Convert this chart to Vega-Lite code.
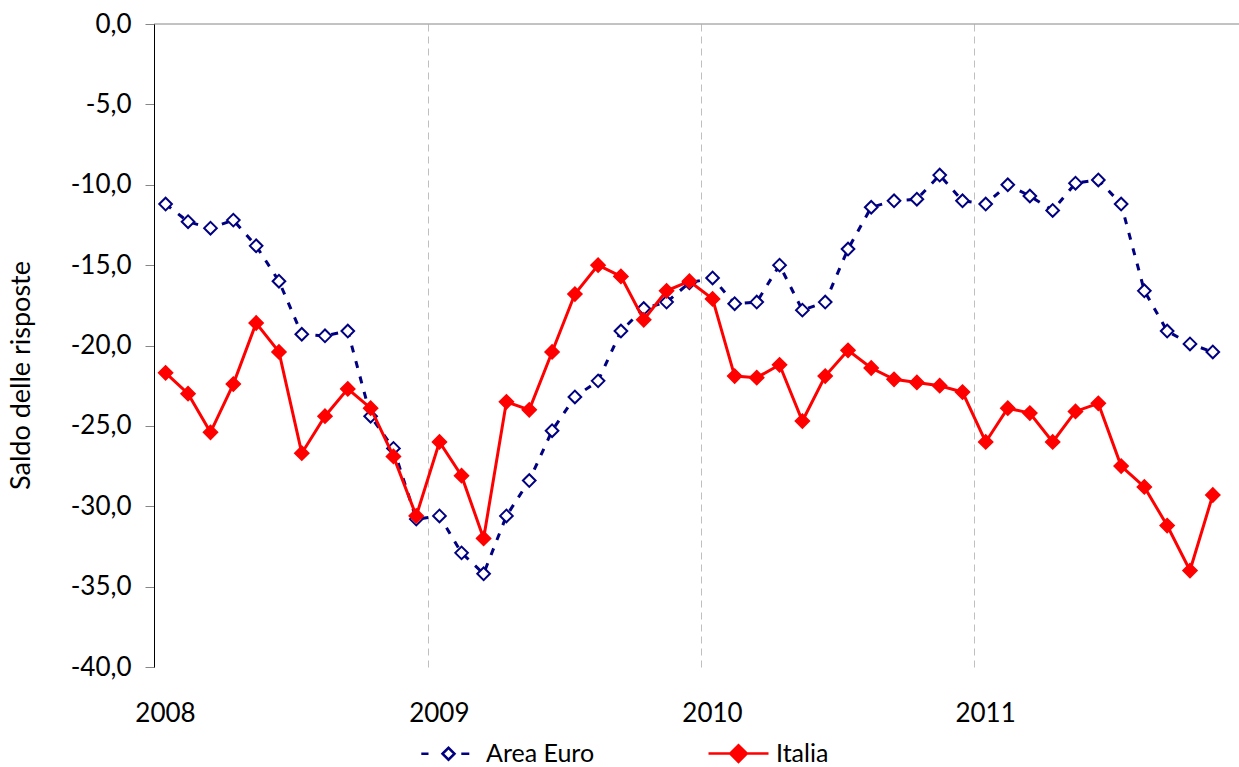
{
  "$schema": "https://vega.github.io/schema/vega-lite/v6.json",
  "width": 1085,
  "height": 643,
  "autosize": {"type": "none"},
  "padding": {"left": 154, "top": 24, "right": 0, "bottom": 100},
  "background": "white",
  "config": {
    "font": "Lato",
    "view": {"stroke": null},
    "axis": {"labelFont": "Lato", "titleFont": "Lato"},
    "legend": {"labelFont": "Lato"},
    "locale": {"number": {"decimal": ",", "thousands": ".", "grouping": [3], "currency": ["€", ""], "minus": "-"}}
  },
  "data": {
    "values": [
      {"mese": "2008-01", "serie": "Area Euro", "valore": -11.2},
      {"mese": "2008-02", "serie": "Area Euro", "valore": -12.3},
      {"mese": "2008-03", "serie": "Area Euro", "valore": -12.7},
      {"mese": "2008-04", "serie": "Area Euro", "valore": -12.2},
      {"mese": "2008-05", "serie": "Area Euro", "valore": -13.8},
      {"mese": "2008-06", "serie": "Area Euro", "valore": -16.0},
      {"mese": "2008-07", "serie": "Area Euro", "valore": -19.3},
      {"mese": "2008-08", "serie": "Area Euro", "valore": -19.4},
      {"mese": "2008-09", "serie": "Area Euro", "valore": -19.1},
      {"mese": "2008-10", "serie": "Area Euro", "valore": -24.4},
      {"mese": "2008-11", "serie": "Area Euro", "valore": -26.4},
      {"mese": "2008-12", "serie": "Area Euro", "valore": -30.8},
      {"mese": "2009-01", "serie": "Area Euro", "valore": -30.6},
      {"mese": "2009-02", "serie": "Area Euro", "valore": -32.9},
      {"mese": "2009-03", "serie": "Area Euro", "valore": -34.2},
      {"mese": "2009-04", "serie": "Area Euro", "valore": -30.6},
      {"mese": "2009-05", "serie": "Area Euro", "valore": -28.4},
      {"mese": "2009-06", "serie": "Area Euro", "valore": -25.3},
      {"mese": "2009-07", "serie": "Area Euro", "valore": -23.2},
      {"mese": "2009-08", "serie": "Area Euro", "valore": -22.2},
      {"mese": "2009-09", "serie": "Area Euro", "valore": -19.1},
      {"mese": "2009-10", "serie": "Area Euro", "valore": -17.7},
      {"mese": "2009-11", "serie": "Area Euro", "valore": -17.3},
      {"mese": "2009-12", "serie": "Area Euro", "valore": -16.1},
      {"mese": "2010-01", "serie": "Area Euro", "valore": -15.8},
      {"mese": "2010-02", "serie": "Area Euro", "valore": -17.4},
      {"mese": "2010-03", "serie": "Area Euro", "valore": -17.3},
      {"mese": "2010-04", "serie": "Area Euro", "valore": -15.0},
      {"mese": "2010-05", "serie": "Area Euro", "valore": -17.8},
      {"mese": "2010-06", "serie": "Area Euro", "valore": -17.3},
      {"mese": "2010-07", "serie": "Area Euro", "valore": -14.0},
      {"mese": "2010-08", "serie": "Area Euro", "valore": -11.4},
      {"mese": "2010-09", "serie": "Area Euro", "valore": -11.0},
      {"mese": "2010-10", "serie": "Area Euro", "valore": -10.9},
      {"mese": "2010-11", "serie": "Area Euro", "valore": -9.4},
      {"mese": "2010-12", "serie": "Area Euro", "valore": -11.0},
      {"mese": "2011-01", "serie": "Area Euro", "valore": -11.2},
      {"mese": "2011-02", "serie": "Area Euro", "valore": -10.0},
      {"mese": "2011-03", "serie": "Area Euro", "valore": -10.7},
      {"mese": "2011-04", "serie": "Area Euro", "valore": -11.6},
      {"mese": "2011-05", "serie": "Area Euro", "valore": -9.9},
      {"mese": "2011-06", "serie": "Area Euro", "valore": -9.7},
      {"mese": "2011-07", "serie": "Area Euro", "valore": -11.2},
      {"mese": "2011-08", "serie": "Area Euro", "valore": -16.6},
      {"mese": "2011-09", "serie": "Area Euro", "valore": -19.1},
      {"mese": "2011-10", "serie": "Area Euro", "valore": -19.9},
      {"mese": "2011-11", "serie": "Area Euro", "valore": -20.4},
      {"mese": "2008-01", "serie": "Italia", "valore": -21.7},
      {"mese": "2008-02", "serie": "Italia", "valore": -23.0},
      {"mese": "2008-03", "serie": "Italia", "valore": -25.4},
      {"mese": "2008-04", "serie": "Italia", "valore": -22.4},
      {"mese": "2008-05", "serie": "Italia", "valore": -18.6},
      {"mese": "2008-06", "serie": "Italia", "valore": -20.4},
      {"mese": "2008-07", "serie": "Italia", "valore": -26.7},
      {"mese": "2008-08", "serie": "Italia", "valore": -24.4},
      {"mese": "2008-09", "serie": "Italia", "valore": -22.7},
      {"mese": "2008-10", "serie": "Italia", "valore": -23.9},
      {"mese": "2008-11", "serie": "Italia", "valore": -26.9},
      {"mese": "2008-12", "serie": "Italia", "valore": -30.6},
      {"mese": "2009-01", "serie": "Italia", "valore": -26.0},
      {"mese": "2009-02", "serie": "Italia", "valore": -28.1},
      {"mese": "2009-03", "serie": "Italia", "valore": -32.0},
      {"mese": "2009-04", "serie": "Italia", "valore": -23.5},
      {"mese": "2009-05", "serie": "Italia", "valore": -24.0},
      {"mese": "2009-06", "serie": "Italia", "valore": -20.4},
      {"mese": "2009-07", "serie": "Italia", "valore": -16.8},
      {"mese": "2009-08", "serie": "Italia", "valore": -15.0},
      {"mese": "2009-09", "serie": "Italia", "valore": -15.7},
      {"mese": "2009-10", "serie": "Italia", "valore": -18.4},
      {"mese": "2009-11", "serie": "Italia", "valore": -16.6},
      {"mese": "2009-12", "serie": "Italia", "valore": -16.0},
      {"mese": "2010-01", "serie": "Italia", "valore": -17.1},
      {"mese": "2010-02", "serie": "Italia", "valore": -21.9},
      {"mese": "2010-03", "serie": "Italia", "valore": -22.0},
      {"mese": "2010-04", "serie": "Italia", "valore": -21.2},
      {"mese": "2010-05", "serie": "Italia", "valore": -24.7},
      {"mese": "2010-06", "serie": "Italia", "valore": -21.9},
      {"mese": "2010-07", "serie": "Italia", "valore": -20.3},
      {"mese": "2010-08", "serie": "Italia", "valore": -21.4},
      {"mese": "2010-09", "serie": "Italia", "valore": -22.1},
      {"mese": "2010-10", "serie": "Italia", "valore": -22.3},
      {"mese": "2010-11", "serie": "Italia", "valore": -22.5},
      {"mese": "2010-12", "serie": "Italia", "valore": -22.9},
      {"mese": "2011-01", "serie": "Italia", "valore": -26.0},
      {"mese": "2011-02", "serie": "Italia", "valore": -23.9},
      {"mese": "2011-03", "serie": "Italia", "valore": -24.2},
      {"mese": "2011-04", "serie": "Italia", "valore": -26.0},
      {"mese": "2011-05", "serie": "Italia", "valore": -24.1},
      {"mese": "2011-06", "serie": "Italia", "valore": -23.6},
      {"mese": "2011-07", "serie": "Italia", "valore": -27.5},
      {"mese": "2011-08", "serie": "Italia", "valore": -28.8},
      {"mese": "2011-09", "serie": "Italia", "valore": -31.2},
      {"mese": "2011-10", "serie": "Italia", "valore": -34.0},
      {"mese": "2011-11", "serie": "Italia", "valore": -29.3}
    ]
  },
  "layer": [
    {
      "data": {"values": [{}]},
      "mark": {"type": "rule", "color": "#868686", "strokeWidth": 1},
      "encoding": {
        "y": {
          "datum": 0,
          "type": "quantitative",
          "scale": {"domain": [-40, 0], "nice": false, "zero": false},
          "axis": {
            "values": [0, -5, -10, -15, -20, -25, -30, -35, -40],
            "format": ".1f",
            "labelFontSize": 26,
            "labelColor": "black",
            "labelPadding": 14,
            "tickSize": 9,
            "tickColor": "#868686",
            "domainColor": "#000000",
            "grid": false,
            "zindex": 1,
            "title": "Saldo delle risposte",
            "titleFontSize": 27,
            "titleFontWeight": "normal",
            "titleColor": "black",
            "titlePadding": 35,
            "titleY": 351
          }
        }
      }
    },
    {
      "encoding": {
        "x": {
          "field": "mese",
          "type": "temporal",
          "timeUnit": "utcyearmonth",
          "bandPosition": 0.5,
          "scale": {"domain": [{"year": 2008, "month": 1, "date": 1, "utc": true}, {"year": 2011, "month": 12, "date": 21, "utc": true}]},
          "axis": {
            "values": [{"year": 2008, "month": 1, "date": 1, "utc": true}, {"year": 2009, "month": 1, "date": 1, "utc": true}, {"year": 2010, "month": 1, "date": 1, "utc": true}, {"year": 2011, "month": 1, "date": 1, "utc": true}],
            "labelExpr": "utcFormat(datum.value, '%Y')",
            "labelOffset": 11,
            "labelPadding": 33,
            "labelFontSize": 26,
            "labelColor": "black",
            "labelFlush": false,
            "labelOverlap": false,
            "domain": false,
            "ticks": false,
            "grid": true,
            "gridColor": "#BFBFBF",
            "gridDash": [7, 5],
            "gridWidth": 1,
            "title": null
          }
        },
        "y": {
          "field": "valore",
          "type": "quantitative",
          "scale": {"domain": [-40, 0], "nice": false, "zero": false},
          "axis": {
            "values": [0, -5, -10, -15, -20, -25, -30, -35, -40],
            "format": ".1f",
            "labelFontSize": 26,
            "labelColor": "black",
            "labelPadding": 14,
            "tickSize": 9,
            "tickColor": "#868686",
            "domainColor": "#000000",
            "grid": false,
            "zindex": 1,
            "title": "Saldo delle risposte",
            "titleFontSize": 27,
            "titleFontWeight": "normal",
            "titleColor": "black",
            "titlePadding": 35,
            "titleY": 351
          }
        }
      },
      "layer": [
        {
          "transform": [{"filter": "datum.serie === 'Area Euro'"}],
          "mark": {"type": "line", "color": "#000080", "strokeWidth": 3, "strokeDash": [7, 9]}
        },
        {
          "transform": [{"filter": "datum.serie === 'Area Euro'"}],
          "mark": {"type": "point", "shape": "diamond", "size": 160, "filled": true, "fill": "white", "stroke": "#000080", "strokeWidth": 2, "opacity": 1}
        },
        {
          "transform": [{"filter": "datum.serie === 'Italia'"}],
          "mark": {"type": "line", "color": "#FF0000", "strokeWidth": 3}
        },
        {
          "transform": [{"filter": "datum.serie === 'Italia'"}],
          "mark": {"type": "point", "shape": "diamond", "size": 200, "filled": true, "fill": "#FF0000", "stroke": "#FF0000", "strokeWidth": 1.5, "opacity": 1}
        }
      ]
    },
    {
      "transform": [{"filter": "false"}],
      "mark": {"type": "point", "filled": true, "opacity": 1, "strokeWidth": 2.5, "size": 256},
      "encoding": {
        "shape": {
          "field": "serie",
          "type": "nominal",
          "scale": {
            "domain": ["Area Euro", "Italia"],
            "range": ["M-3.4,0H-2.5M1.6,0H2.6M-0.75,0L0,-0.75L0.75,0L0,0.75Z", "M-3.75,0H3.75M-1.05,0L0,-1.05L1.05,0L0,1.05Z"]
          },
          "legend": {
            "orient": "none",
            "legendX": 282,
            "legendY": 717,
            "direction": "horizontal",
            "title": null,
            "labelFontSize": 25,
            "labelColor": "black",
            "labelOffset": 25,
            "columnPadding": 108,
            "symbolSize": 256,
            "symbolStrokeWidth": 2.5
          }
        },
        "stroke": {
          "field": "serie",
          "type": "nominal",
          "scale": {"domain": ["Area Euro", "Italia"], "range": ["#000080", "#FF0000"]},
          "legend": {
            "orient": "none",
            "legendX": 282,
            "legendY": 717,
            "direction": "horizontal",
            "title": null,
            "labelFontSize": 25,
            "labelColor": "black",
            "labelOffset": 25,
            "columnPadding": 108,
            "symbolSize": 256,
            "symbolStrokeWidth": 2.5
          }
        },
        "fill": {
          "field": "serie",
          "type": "nominal",
          "scale": {"domain": ["Area Euro", "Italia"], "range": ["#FFFFFF", "#FF0000"]},
          "legend": {
            "orient": "none",
            "legendX": 282,
            "legendY": 717,
            "direction": "horizontal",
            "title": null,
            "labelFontSize": 25,
            "labelColor": "black",
            "labelOffset": 25,
            "columnPadding": 108,
            "symbolSize": 256,
            "symbolStrokeWidth": 2.5
          }
        }
      }
    }
  ]
}
